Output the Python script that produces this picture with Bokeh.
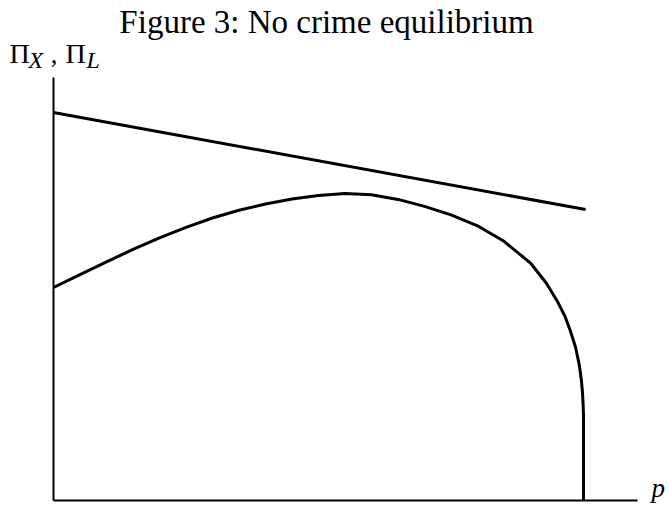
from bokeh.plotting import figure
from bokeh.models import Range1d, Label
from bokeh.embed import file_html
from bokeh.resources import INLINE

# --- data ---
title_text = "Figure 3: No crime equilibrium"
x_label = "p"

# straight line (Pi_L)
line_p = [0.0, 1.004]
line_pi = [1.0, 0.75]

# hump-shaped curve (Pi_X)
curve_p = [0.0, 0.05, 0.10, 0.15, 0.20, 0.25, 0.30, 0.35, 0.40, 0.45, 0.50, 0.55,
           0.60, 0.65, 0.70, 0.75, 0.80, 0.85, 0.90, 0.93, 0.95, 0.965, 0.975,
           0.985, 0.992, 0.996, 0.998, 0.9992, 1.0, 1.0]
curve_pi = [0.549, 0.582, 0.615, 0.647, 0.677, 0.704, 0.728, 0.748, 0.764, 0.777, 0.786, 0.791,
            0.788, 0.776, 0.758, 0.736, 0.708, 0.668, 0.612, 0.560, 0.515, 0.475, 0.438,
            0.395, 0.350, 0.310, 0.280, 0.250, 0.220, 0.0]

# axis extents
axis_x_end = 1.102
axis_y_end = 1.09

W, H = 669, 508
x0 = -53 / 530
x1 = x0 + W / 530
y0 = -8 / 388
y1 = y0 + H / 388

p = figure(width=W, height=H, output_backend="svg", toolbar_location=None,
           x_range=Range1d(x0, x1), y_range=Range1d(y0, y1),
           x_axis_location=None, y_axis_location=None, min_border=0)
p.grid.visible = False
p.outline_line_color = None
p.background_fill_color = "white"
p.border_fill_color = "white"

# axes drawn as lines
p.line([0, 0], [0, axis_y_end], line_color="black", line_width=2)
p.line([0, axis_x_end], [0, 0], line_color="black", line_width=2)

p.line(line_p, line_pi, line_color="black", line_width=3)
p.line(curve_p, curve_pi, line_color="black", line_width=3, line_join="round")

FONT = "Liberation Serif"

def lab(text, x, y, size="30px", style="normal", align="left"):
    p.add_layout(Label(x=x, y=y, x_units="screen", y_units="screen", text=text,
                       text_font=FONT, text_font_size=size, text_font_style=style,
                       text_color="black", text_align=align, text_baseline="alphabetic"))

lab(title_text, 326, H - 21, size="33px", align="center")
lab("\u03a0", 9, H - 53, size="28px")
lab("X", 28, H - 59, size="24px", style="italic")
lab(",", 50, H - 53, size="28px")
lab("\u03a0", 65, H - 53, size="28px")
lab("L", 86, H - 59, size="24px", style="italic")
lab(x_label, 651, 21, size="27px", style="italic")

open("out.html", "w").write(file_html(p, INLINE))
